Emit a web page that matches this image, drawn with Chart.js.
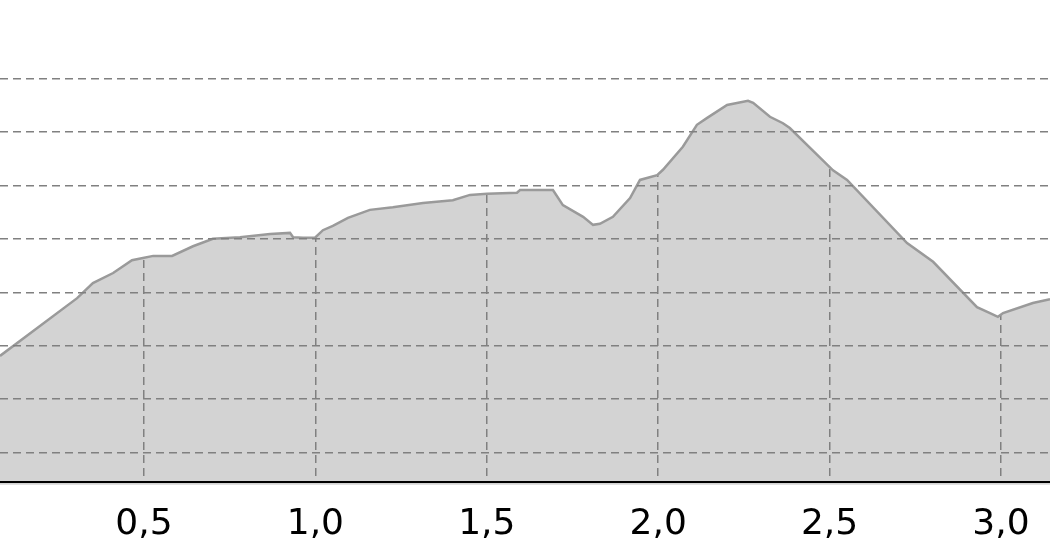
<!DOCTYPE html>
<html>
<head>
<meta charset="utf-8">
<script src="https://cdn.jsdelivr.net/npm/chart.js@4.4.1/dist/chart.umd.min.js"></script>
<style>
  html, body { margin: 0; padding: 0; background: #fff; }
  #wrap { width: 1050px; height: 560px; }
</style>
</head>
<body>
<div id="wrap"><canvas id="profile"></canvas></div>
<script>
// distance along the route (km) and elevation (m)
const distance = [0.080, 0.305, 0.351, 0.410, 0.465, 0.497, 0.527, 0.582, 0.643, 0.701,
    0.780, 0.868, 0.926, 0.935, 0.964, 0.999, 1.022, 1.051, 1.095, 1.159,
    1.226, 1.314, 1.401, 1.451, 1.501, 1.588, 1.597, 1.693, 1.722, 1.781,
    1.810, 1.830, 1.868, 1.918, 1.947, 1.997, 2.014, 2.072, 2.113, 2.143,
    2.201, 2.262, 2.277, 2.326, 2.364, 2.384, 2.510, 2.551, 2.726, 2.802,
    2.930, 2.968, 2.991, 3.006, 3.093, 3.143];
const elevation = [128.1, 138.9, 141.7, 143.6, 146.0, 146.4, 146.8, 146.8, 148.6, 150.0,
    150.3, 150.9, 151.1, 150.3, 150.2, 150.2, 151.6, 152.4, 153.9, 155.4,
    155.9, 156.7, 157.2, 158.2, 158.4, 158.6, 159.1, 159.1, 156.3, 154.1,
    152.6, 152.8, 154.1, 157.6, 161.0, 161.9, 162.9, 167.2, 171.3, 172.6,
    175.0, 175.8, 175.4, 172.8, 171.6, 170.7, 162.8, 161.0, 149.2, 145.7,
    137.2, 136.1, 135.4, 136.1, 138.0, 138.7];

const xTicks = [0.5, 1.0, 1.5, 2.0, 2.5, 3.0];
const xTickLabels = ['0,5', '1,0', '1,5', '2,0', '2,5', '3,0'];
const yTicks = [110, 120, 130, 140, 150, 160, 170, 180];

// grey under the profile: paint the plot area, the white fill above the line hides the rest
const plotBackground = {
    id: 'plotBackground',
    beforeDraw(chart) {
        const {ctx, chartArea} = chart;
        ctx.save();
        ctx.fillStyle = '#d3d3d3';
        ctx.fillRect(chartArea.left, chartArea.top,
            chartArea.right - chartArea.left, chartArea.bottom - chartArea.top + 3);
        ctx.restore();
    }
};

const points = distance.map((d, i) => ({x: d, y: elevation[i]}));

new Chart(document.getElementById('profile'), {
    type: 'line',
    data: {
        datasets: [{
            data: points,
            borderColor: '#9a9a9a',
            borderWidth: 2.5,
            pointRadius: 0,
            tension: 0,
            fill: 'end',
            backgroundColor: '#ffffff'
        }]
    },
    options: {
        responsive: true,
        maintainAspectRatio: false,
        animation: false,
        devicePixelRatio: 1,
        layout: {padding: 0},
        plugins: {
            legend: {display: false},
            tooltip: {enabled: false}
        },
        scales: {
            x: {
                type: 'linear',
                min: 0.08,
                max: 3.143,
                afterBuildTicks: axis => { axis.ticks = xTicks.map(v => ({value: v})); },
                afterFit: axis => { axis.height = 78.3; },
                ticks: {
                    callback: (value, index) => xTickLabels[index],
                    font: {family: 'DejaVu Sans', size: 36, lineHeight: 1.41},
                    color: '#000',
                    padding: 18,
                    maxRotation: 0,
                    autoSkip: false
                },
                grid: {color: '#808080', lineWidth: 1.5, drawTicks: false, z: -1},
                border: {display: true, color: '#000', width: 2, dash: [8, 5], z: 2}
            },
            y: {
                min: 104.58,
                max: 194.64,
                afterBuildTicks: axis => { axis.ticks = yTicks.map(v => ({value: v})); },
                ticks: {display: false},
                grid: {color: '#808080', lineWidth: 1.5, drawTicks: false, z: 1},
                border: {display: false, dash: [8, 5]}
            }
        }
    },
    plugins: [plotBackground]
});
</script>
</body>
</html>
